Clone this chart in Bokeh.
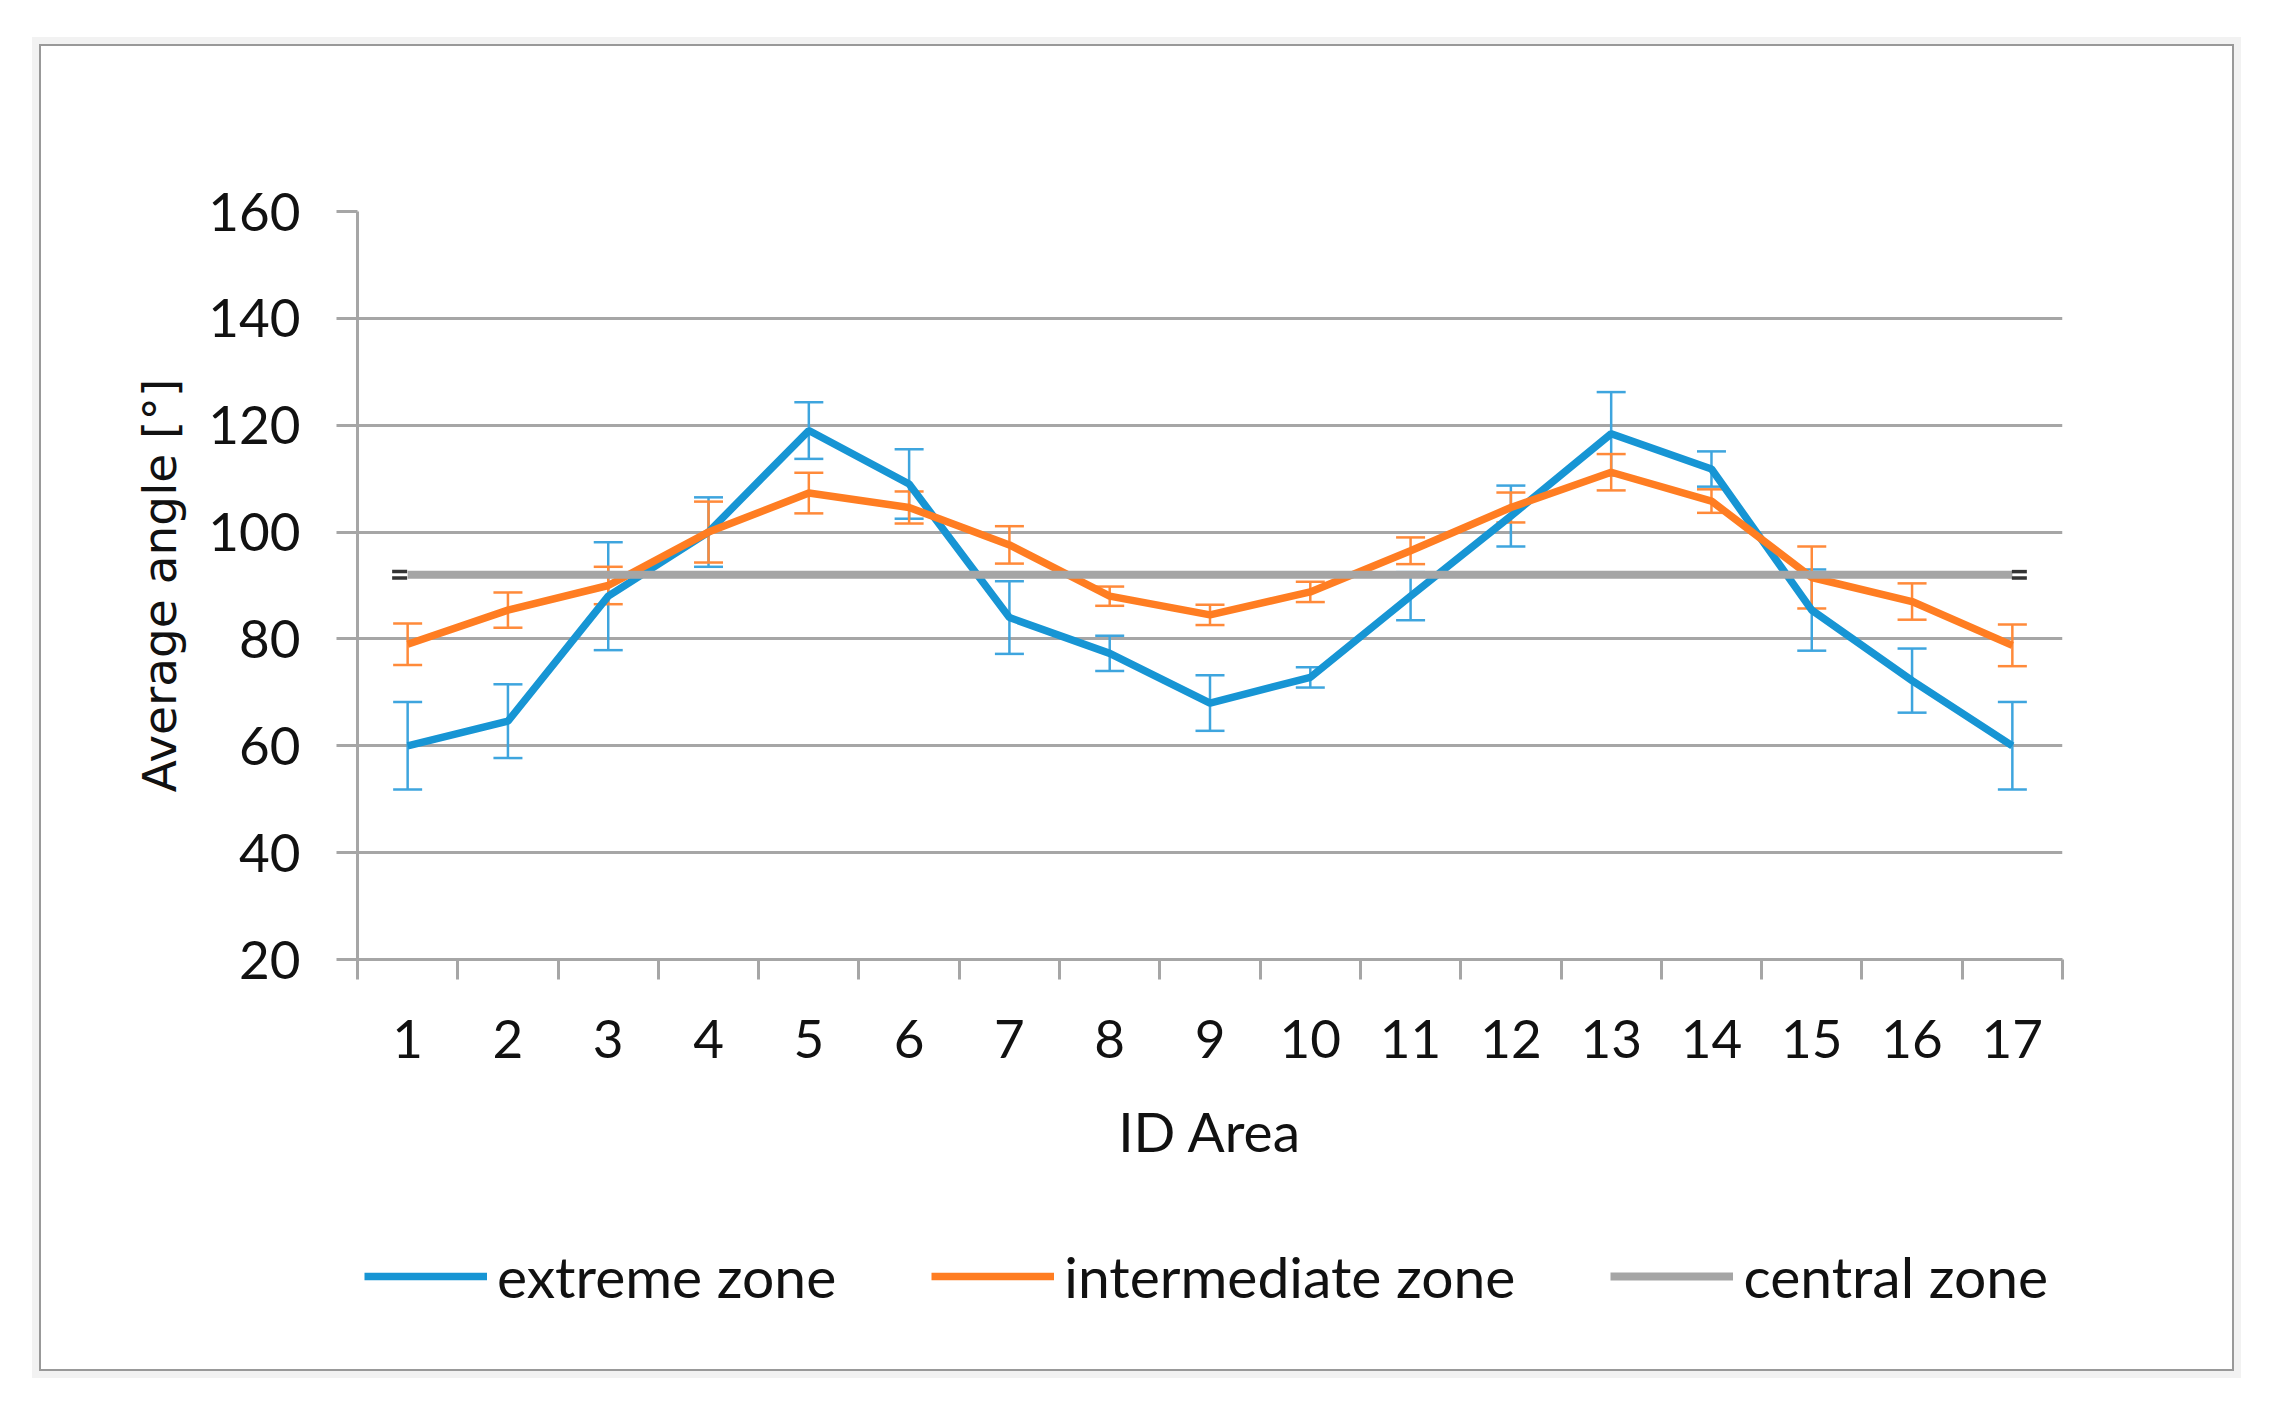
from bokeh.plotting import figure
from bokeh.models import (ColumnDataSource, Range1d, FixedTicker, Whisker, TeeHead,
                          Legend, LegendItem)
from bokeh.layouts import column
from bokeh.embed import file_html
from bokeh.resources import INLINE

# ---------------- data ----------------
ids = list(range(1, 18))
tick_labels = [str(i) for i in ids]
extreme = [60, 64.6, 88, 100, 119, 109, 84, 77.3, 68, 72.8, 88, 103, 118.4, 111.8, 85.4, 72.2, 60]
extreme_err = [8.2, 6.9, 10.1, 6.5, 5.3, 6.5, 6.8, 3.3, 5.2, 1.9, 4.5, 5.7, 7.8, 3.3, 7.6, 6.0, 8.2]
intermediate = [79, 85.4, 90, 100, 107.3, 104.6, 97.6, 88, 84.5, 88.8, 96.5, 104.6, 111.2, 105.8, 91.5, 87, 78.8]
intermediate_err = [3.9, 3.3, 3.5, 5.7, 3.8, 3.0, 3.5, 1.8, 1.9, 1.9, 2.5, 2.8, 3.4, 2.2, 5.8, 3.4, 3.9]
central = [92] * 17
y_ticks = [20, 40, 60, 80, 100, 120, 140, 160]
series_names = ["extreme zone", "intermediate zone", "central zone"]

# ---------------- styles ----------------
BLUE = "#1795d4"
BLUE_ERR = "#3ea5de"
ORANGE = "#ff7d22"
ORANGE_ERR = "#ff8a3a"
GRAY = "#a5a5a5"
AXIS_GRAY = "#a6a6a6"
TEXT = "#111111"
SERIES_COLORS = [BLUE, ORANGE, GRAY]

FW, FH = 1705, 748
ML, MR, MT, MB = 316, 170, 165, 252
W, H1 = ML + FW + MR, MT + FH + MB
H2 = 158

p = figure(width=W, height=H1, frame_width=FW, frame_height=FH,
           x_range=Range1d(0.5, 17.5), y_range=Range1d(20, 160),
           output_backend="svg", toolbar_location=None,
           min_border_left=ML, min_border_right=MR, min_border_top=MT, min_border_bottom=MB)
p.background_fill_color = "white"
p.border_fill_color = "white"
p.outline_line_color = None

# axes
p.xaxis.ticker = FixedTicker(ticks=ids, minor_ticks=[i - 0.5 for i in ids] + [ids[-1] + 0.5])
p.xaxis.major_label_overrides = {i: s for i, s in zip(ids, tick_labels)}
p.xaxis.major_tick_out = 0
p.xaxis.major_tick_in = 0
p.xaxis.minor_tick_out = 20
p.xaxis.minor_tick_in = 0
p.xaxis.minor_tick_line_color = AXIS_GRAY
p.xaxis.minor_tick_line_width = 3
p.xaxis.axis_line_color = AXIS_GRAY
p.xaxis.axis_line_width = 3
p.xaxis.major_label_text_font = "Lato"
p.xaxis.major_label_text_font_size = "53px"
p.xaxis.major_label_text_color = TEXT
p.xaxis.major_label_standoff = 40
p.xaxis.axis_label = "ID Area"
p.xaxis.axis_label_text_font = "Lato"
p.xaxis.axis_label_text_font_size = "55px"
p.xaxis.axis_label_text_font_style = "normal"
p.xaxis.axis_label_text_color = TEXT
p.xaxis.axis_label_standoff = 37

p.yaxis.ticker = FixedTicker(ticks=y_ticks)
p.yaxis.major_tick_out = 21
p.yaxis.major_tick_in = 0
p.yaxis.major_tick_line_color = AXIS_GRAY
p.yaxis.major_tick_line_width = 3
p.yaxis.minor_tick_line_color = None
p.yaxis.axis_line_color = AXIS_GRAY
p.yaxis.axis_line_width = 3
p.yaxis.major_label_text_font = "Lato"
p.yaxis.major_label_text_font_size = "53px"
p.yaxis.major_label_text_color = TEXT
p.yaxis.major_label_standoff = 36
p.yaxis.axis_label = "Average angle [°]"
p.yaxis.axis_label_text_font = "DejaVu Sans"
p.yaxis.axis_label_text_font_size = "47px"
p.yaxis.axis_label_text_font_style = "normal"
p.yaxis.axis_label_text_color = TEXT
p.yaxis.axis_label_standoff = 18

p.xgrid.grid_line_color = None
p.ygrid.ticker = FixedTicker(ticks=y_ticks)
p.ygrid.grid_line_color = AXIS_GRAY
p.ygrid.grid_line_width = 3

# ---------------- series ----------------
src_e = ColumnDataSource(dict(x=ids, y=extreme,
                              lo=[v - e for v, e in zip(extreme, extreme_err)],
                              hi=[v + e for v, e in zip(extreme, extreme_err)]))
src_i = ColumnDataSource(dict(x=ids, y=intermediate,
                              lo=[v - e for v, e in zip(intermediate, intermediate_err)],
                              hi=[v + e for v, e in zip(intermediate, intermediate_err)]))
src_c = ColumnDataSource(dict(x=ids, y=central))

p.line("x", "y", source=src_e, line_color=BLUE, line_width=7.5)
p.add_layout(Whisker(source=src_e, base="x", upper="hi", lower="lo", dimension="height",
                     line_color=BLUE_ERR, line_width=2.5,
                     upper_head=TeeHead(size=29, line_color=BLUE_ERR, line_width=2.5),
                     lower_head=TeeHead(size=29, line_color=BLUE_ERR, line_width=2.5)))

p.line("x", "y", source=src_i, line_color=ORANGE, line_width=7.5)
p.add_layout(Whisker(source=src_i, base="x", upper="hi", lower="lo", dimension="height",
                     line_color=ORANGE_ERR, line_width=2.5,
                     upper_head=TeeHead(size=29, line_color=ORANGE_ERR, line_width=2.5),
                     lower_head=TeeHead(size=29, line_color=ORANGE_ERR, line_width=2.5)))

p.line("x", "y", source=src_c, line_color=GRAY, line_width=8)

# small dark "=" end marks of the central series
px_per_unit = FW / 17.0
end_x = [ids[0] - 8 / px_per_unit, ids[-1] + 7 / px_per_unit]
end_y = [central[0], central[-1]]
dy = 3.2 * 140.0 / FH
seg_src = ColumnDataSource(dict(x0=[ex - 7.5 / px_per_unit for ex in end_x],
                                x1=[ex + 7.5 / px_per_unit for ex in end_x],
                                ya=[ey + dy for ey in end_y], yb=[ey - dy for ey in end_y]))
p.segment(x0="x0", y0="ya", x1="x1", y1="ya", source=seg_src, line_color="#333333", line_width=3.5)
p.segment(x0="x0", y0="yb", x1="x1", y1="yb", source=seg_src, line_color="#333333", line_width=3.5)

# ---------------- legend strip (own figure so nothing is clipped) ----------------
pl = figure(width=W, height=H2, x_range=Range1d(0, 1), y_range=Range1d(0, 1),
            output_backend="svg", toolbar_location=None,
            min_border_left=0, min_border_right=0, min_border_top=0, min_border_bottom=0)
pl.axis.visible = False
pl.grid.visible = False
pl.outline_line_color = None
pl.background_fill_color = "white"
pl.border_fill_color = "white"
leg_renderers = []
for c, w in zip(SERIES_COLORS, [7.5, 7.5, 8]):
    # off-range dummy data: only the legend sample of each line is seen
    leg_renderers.append(pl.line(x=[-10, -9], y=[-10, -9], line_color=c, line_width=w))

leg = Legend(items=[LegendItem(label=n, renderers=[r]) for n, r in zip(series_names, leg_renderers)],
             location=(7, 59), orientation="horizontal",
             glyph_width=123, glyph_height=60, label_height=60,
             label_standoff=10, padding=0, margin=0, spacing=95,
             border_line_color=None, background_fill_alpha=0,
             label_text_font="Lato", label_text_font_size="57px",
             label_text_color=TEXT)
pl.add_layout(leg)

layout = column(p, pl, spacing=0)
layout.margin = (46, 0, 0, 41)
layout.styles = {"box-shadow": "0 0 0 2px #999999, 0 0 0 9px #f2f2f2"}

open("out.html", "w").write(file_html(layout, INLINE))
